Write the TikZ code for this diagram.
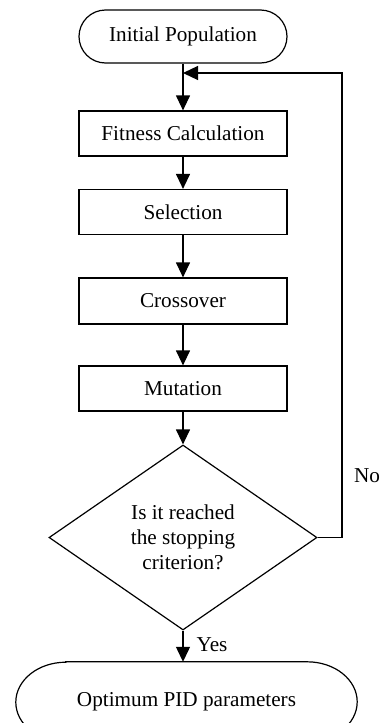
\documentclass[tikz,border=0pt]{standalone}
\usepackage{fontspec}
\setmainfont{Liberation Serif}
\usetikzlibrary{arrows.meta,shapes.geometric,calc}
\begin{document}
\begin{tikzpicture}[x=1pt,y=1pt,
  every node/.style={font=\fontsize{21.2}{25}\selectfont},
  line/.style={line width=1.2pt},
  arr/.style={line, -{Triangle[length=15pt,width=14pt]}},
  procbox/.style={draw, line width=1.2pt, rectangle, minimum width=208pt, minimum height=45pt, inner sep=0pt},
  termbox/.style={draw, line width=1.2pt, rectangle, rounded corners=26.5pt, minimum width=208pt, minimum height=53pt, inner sep=0pt},
  decbox/.style={draw, line width=1.2pt, diamond, aspect=1.449, minimum width=268pt, minimum height=185pt, inner sep=0pt, align=center},
  lbl/.style={inner sep=0pt}
]
\useasboundingbox (0,0) rectangle (382,-723);
\node[termbox] (init) at (183,-36.5) {Initial Population};
\node[procbox] (fit) at (183,-133.5) {Fitness Calculation};
\node[procbox] (sel) at (183,-212) {Selection};
\node[procbox, minimum height=46pt] (cross) at (183,-301) {Crossover};
\node[procbox] (mut) at (183,-388.5) {Mutation};
\node[decbox] (dia) at (183,-537.5) {Is it reached\\the stopping\\criterion?};
\node[inner sep=0pt, minimum width=341pt, minimum height=80pt] (opt) at (186.5,-702) {Optimum PID parameters};
\draw[line] ($(opt.north west)+(50,0)$) -- ($(opt.north east)+(-50,0)$)
  arc[start angle=90, end angle=-90, x radius=50, y radius=40]
  -- ($(opt.south west)+(50,0)$)
  arc[start angle=270, end angle=90, x radius=50, y radius=40] -- cycle;
\coordinate (loopx) at (342,-73);
\draw[arr] (init.south) -- (fit.north);
\draw[arr] (fit.south) -- (sel.north);
\draw[arr] (sel.south) -- (cross.north);
\draw[arr] (cross.south) -- (mut.north);
\draw[arr] (mut.south) -- (dia.north);
\draw[arr] (dia.east) -| (loopx) -- (init.south |- loopx);
\draw[arr] (dia.south) -- (dia.south |- opt.north);
\node[lbl] (yes) at (212,-645) {Yes};
\node[lbl] (no) at (367,-476) {No};
\end{tikzpicture}
\end{document}
